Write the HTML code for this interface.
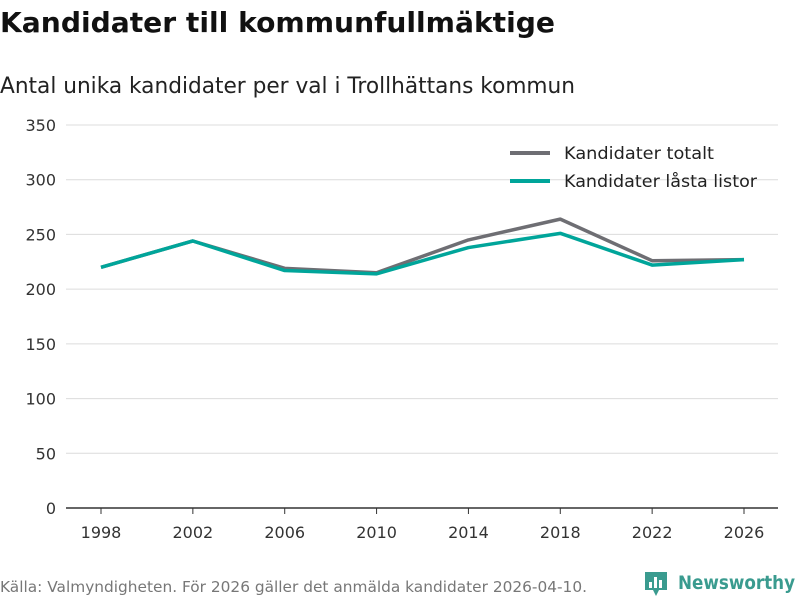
<!DOCTYPE html>
<html><head><meta charset="utf-8"><style>
body{margin:0;background:#fff;font-family:"DejaVu Sans","Liberation Sans",sans-serif;}
svg text{font-family:"DejaVu Sans","Liberation Sans",sans-serif;}
</style></head><body>
<svg width="800" height="600" xmlns="http://www.w3.org/2000/svg">
<text x="0" y="32" font-size="28" font-weight="bold" fill="#111" textLength="555" lengthAdjust="spacingAndGlyphs">Kandidater till kommunfullmäktige</text>
<text x="0" y="93" font-size="22" fill="#222" textLength="575" lengthAdjust="spacingAndGlyphs">Antal unika kandidater per val i Trollhättans kommun</text>
<g id="grid"></g><g id="axes"></g><g id="lines"></g>
<g>
<line x1="510" y1="153" x2="550" y2="153" stroke="#6e6e73" stroke-width="4"/>
<text x="564" y="159" font-size="17" fill="#222" textLength="150" lengthAdjust="spacingAndGlyphs">Kandidater totalt</text>
<line x1="510" y1="181" x2="550" y2="181" stroke="#00a59a" stroke-width="4"/>
<text x="564" y="187" font-size="17" fill="#222" textLength="193" lengthAdjust="spacingAndGlyphs">Kandidater låsta listor</text>
</g>
<text x="0" y="592" font-size="15" fill="#777" textLength="587" lengthAdjust="spacingAndGlyphs">Källa: Valmyndigheten. För 2026 gäller det anmälda kandidater 2026-04-10.</text>
<g>
<path d="M645 572 h22 v18 h-8 l-3 6 l-3 -6 h-8 z" fill="#3a9b8f"/>
<rect x="649" y="582" width="3" height="6" fill="#fff"/><rect x="654" y="577" width="3" height="11" fill="#fff"/><rect x="659" y="580" width="3" height="8" fill="#fff"/>
<text x="678" y="589" font-size="19" font-weight="bold" fill="#3a9b8f" textLength="117" lengthAdjust="spacingAndGlyphs">Newsworthy</text>
</g>
</svg>
<script>
const years=[1998,2002,2006,2010,2014,2018,2022,2026];
const totalValues=[220,244,219,215,245,264,226,227];
const lockedValues=[220,244,217,214,238,251,222,227];
const yTicks=[0,50,100,150,200,250,300,350];
const NS="http://www.w3.org/2000/svg";
const x=v=>101+(v-1998)/28*643;
const y=v=>508-v/350*383;
const grid=document.getElementById('grid'),axes=document.getElementById('axes'),lines=document.getElementById('lines');
function mk(t,a,p){const e=document.createElementNS(NS,t);for(const k in a)e.setAttribute(k,a[k]);p.appendChild(e);return e;}
yTicks.forEach(t=>{
 if(t>0){const l=mk('line',{x1:66,x2:778,y1:y(t),y2:y(t),stroke:'#dcdcdc','stroke-width':1},grid);
 
 }
 const tx=mk('text',{x:56,y:y(t)+6,'font-size':16,fill:'#333','text-anchor':'end'},axes);tx.textContent=t;
 
 
});
const ax=mk('line',{x1:66,x2:778,y1:508,y2:508,stroke:'#333','stroke-width':1.5},axes);


years.forEach(v=>{
 const tk=mk('line',{x1:x(v),x2:x(v),y1:508,y2:514,stroke:'#333'},axes);
 
 
 const tx=mk('text',{x:x(v),y:538,'font-size':16,fill:'#333','text-anchor':'middle'},axes);tx.textContent=v;
 
 
});
function line(vals,color,name){
 const p=mk('polyline',{points:vals.map((v,i)=>x(years[i])+','+y(v)).join(' '),fill:'none',stroke:color,'stroke-width':3.5,'stroke-linejoin':'round'},lines);
 
 
}
line(totalValues,'#6e6e73','line-total');
line(lockedValues,'#00a59a','line-locked');
</script>
</body></html>
